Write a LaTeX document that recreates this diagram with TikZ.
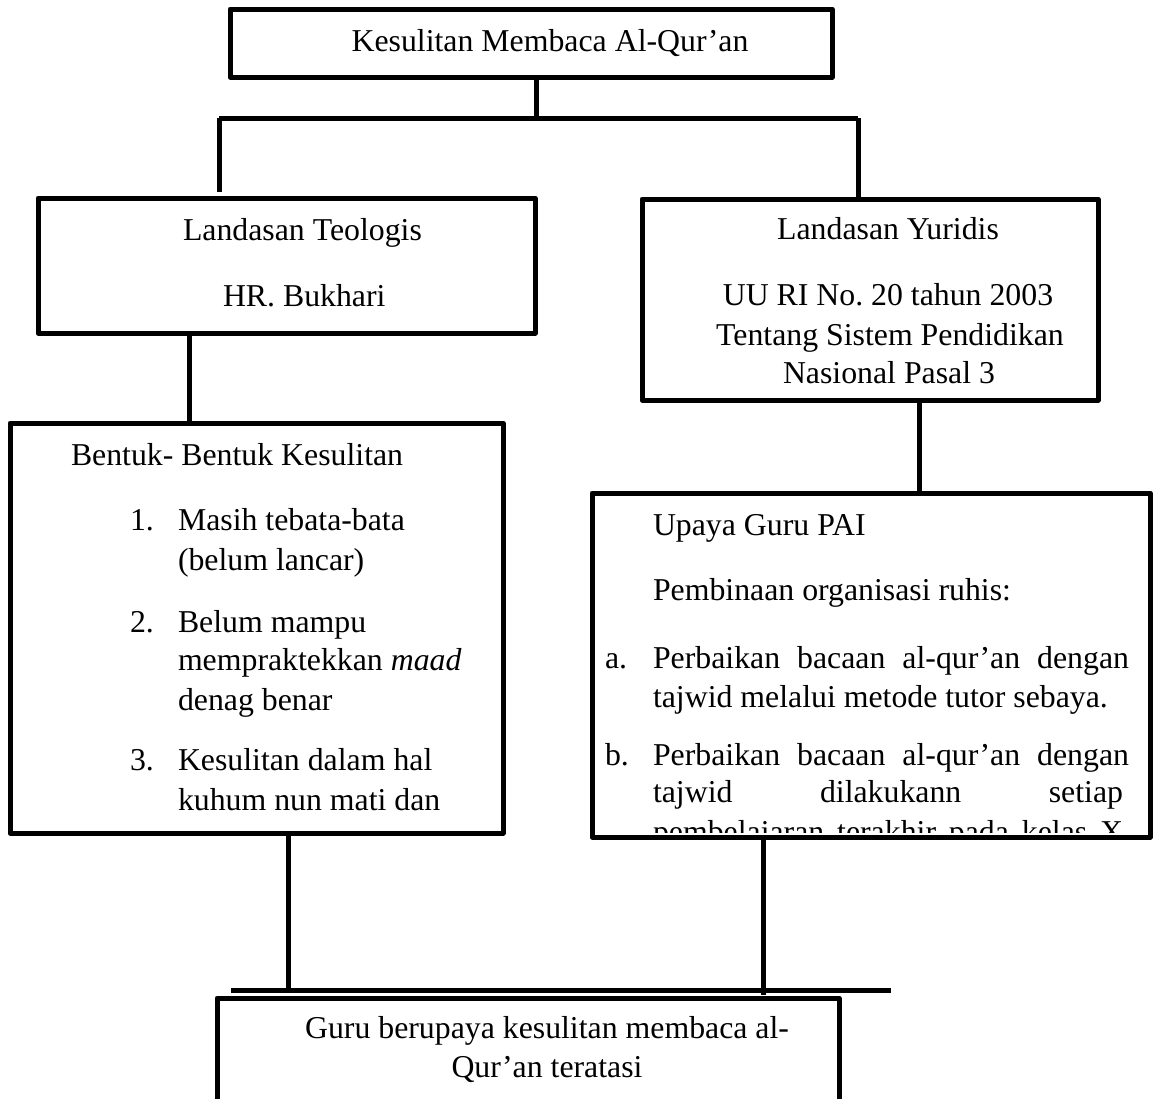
\documentclass[tikz,border=0pt]{standalone}
\usepackage{fontspec}
\setmainfont{Liberation Serif}
\frenchspacing
\begin{document}
\begin{tikzpicture}[x=1pt,y=-1pt,
  box/.style={draw=black,line width=5pt,fill=white,inner sep=0pt,outer sep=0pt,anchor=north west,line join=round},
  conn/.style={draw=black,line width=5pt},
  txt/.style={inner sep=0pt,outer sep=0pt,font=\fontsize{31.8}{39.5}\selectfont},
  tl/.style={txt,anchor=base west},
  tc/.style={txt,anchor=base}]
\useasboundingbox (0,0) rectangle (1153,1098);
\clip (0,0) rectangle (1153,1098);
\fill[white] (0,0) rectangle (1153,1098);

% boxes
\node[box,minimum width=602pt,minimum height=68pt] (top) at (230,9) {};
\node[box,minimum width=497pt,minimum height=135pt] (teo) at (38,198) {};
\node[box,minimum width=456pt,minimum height=201pt] (yur) at (642,199) {};
\node[box,minimum width=493pt,minimum height=410pt] (ben) at (10,423) {};
\node[box,minimum width=558pt,minimum height=344pt] (upa) at (592,493) {};
\node[box,minimum width=622pt,minimum height=140pt] (gur) at (217,998) {};

% junctions
\coordinate (jt) at (536,118);
\coordinate (jl) at (219,118);
\coordinate (jr) at (858,118);
\coordinate (jlend) at (219,192);
\coordinate (jb1) at (288,990);
\coordinate (jb2) at (763,990);
\coordinate (bl) at (231,990);
\coordinate (br) at (891,990);
\coordinate (xb) at (189,0);
\coordinate (xy) at (919,0);
\coordinate (jb1end) at (288,993);
\coordinate (jb2end) at (763,995);

% connectors
\draw[conn] (top.south -| jt) -- (jt);
\draw[conn] (jl) -- (jr);
\draw[conn] (jl) -- (jlend);
\draw[conn] (jr) -- (yur.north -| jr);
\draw[conn] (teo.south -| xb) -- (ben.north -| xb);
\draw[conn] (yur.south -| xy) -- (upa.north -| xy);
\draw[conn] (ben.south -| jb1) -- (jb1end);
\draw[conn] (upa.south -| jb2) -- (jb2end);
\draw[conn] (bl) -- (br);

% texts
\node[tc] (t0) at (550,51) {Kesulitan Membaca Al-Qur’an};

\node[tl] (t1) at (183,240) {Landasan Teologis};
\node[tl] (t2) at (223,306) {HR. Bukhari};

\node[tc] (y1) at (888,239) {Landasan Yuridis};
\node[tc] (y2) at (888,305) {UU RI No. 20 tahun 2003};
\node[tc] (y3) at (890,345) {Tentang Sistem Pendidikan};
\node[tc] (y4) at (889,383) {Nasional Pasal 3};

\node[tl] (b0) at (71,465) {Bentuk- Bentuk Kesulitan};
\node[tl] (n1) at (130,530) {1.};
\node[tl] (b1) at (178,530) {Masih tebata-bata};
\node[tl] (b2) at (178,570) {(belum lancar)};
\node[tl] (n2) at (130,632) {2.};
\node[tl] (b3) at (178,632) {Belum mampu};
\node[tl] (b4) at (178,670) {mempraktekkan \textit{maad}};
\node[tl] (b5) at (178,710) {denag benar};
\node[tl] (n3) at (130,770) {3.};
\node[tl] (b6) at (178,770) {Kesulitan dalam hal};
\node[tl] (b7) at (178,810) {kuhum nun mati dan};

\node[tl] (u0) at (653,535) {Upaya Guru PAI};
\node[tl] (u1) at (653,600) {Pembinaan organisasi ruhis:};
\node[tl] (na) at (605,668) {a.};
\node[tl] (u2) at (653,668) {\hbox to 476pt{Perbaikan\hfill bacaan\hfill al-qur’an\hfill dengan}};
\node[tl] (u3) at (653,707) {tajwid melalui metode tutor sebaya.};
\node[tl] (nb) at (605,765) {b.};
\node[tl] (u4) at (653,765) {\hbox to 476pt{Perbaikan\hfill bacaan\hfill al-qur’an\hfill dengan}};
\node[tl] (u5) at (653,802) {\hbox to 470pt{tajwid\hfill dilakukann\hfill setiap}};
\begin{scope}
\clip (600,500) rectangle (1145,832);
\node[tl] (u6) at (653,842) {\hbox to 470pt{pembelajaran\hfill terakhir\hfill pada\hfill kelas\hfill X}};
\end{scope}

\node[tc] (g1) at (547,1038) {Guru berupaya kesulitan membaca al-};
\node[tc] (g2) at (547,1077) {Qur’an teratasi};
\end{tikzpicture}
\end{document}
